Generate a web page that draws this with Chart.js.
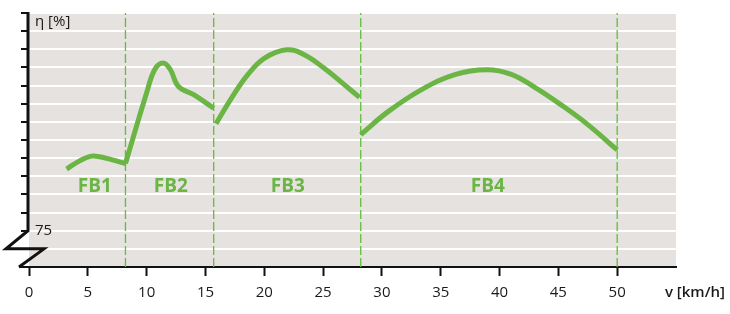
<!DOCTYPE html>
<html>
<head>
<meta charset="utf-8">
<script src="https://cdn.jsdelivr.net/npm/chart.js@4/dist/chart.umd.min.js"></script>
<style>
  html, body { margin: 0; padding: 0; background: #fff; }
  #wrap { width: 730px; height: 314px; }
</style>
</head>
<body>
<div id="wrap"><canvas id="chart" width="730" height="314"></canvas></div>
<script>
// ranges (speed in km/h, efficiency in %)
const speedMin = 0, speedMax = 55;
const etaMin = 73, etaMax = 87;
const xTicks = [0, 5, 10, 15, 20, 25, 30, 35, 40, 45, 50];

// FB1..FB4 curves
const fb1Speed = [3.2, 4.3, 5.2, 6.0, 7.0, 8.2];
const fb1Eta   = [78.4, 78.85, 79.1, 79.08, 78.92, 78.7];
const fb2Speed = [8.2, 10.0, 10.7, 11.4, 12.0, 12.7, 14.0, 15.7];
const fb2Eta   = [78.7, 82.6, 83.9, 84.25, 83.9, 82.95, 82.5, 81.75];
const fb3Speed = [15.9, 17.2, 18.6, 20.0, 21.9, 23.4, 25.1, 26.8, 28.1];
const fb3Eta   = [80.9, 82.3, 83.6, 84.5, 84.97, 84.7, 83.95, 83.05, 82.35];
const fb4Speed = [28.2, 30.5, 33.3, 36.2, 38.9, 41.0, 43.0, 45.2, 47.5, 50.0];
const fb4Eta   = [80.3, 81.55, 82.75, 83.6, 83.87, 83.62, 82.9, 81.95, 80.85, 79.45];

// range borders (dashed) and area names
const borders = [8.2, 15.7, 28.2, 50];
const areaNames = ["FB1", "FB2", "FB3", "FB4"];
const areaSpeeds = [5.6, 12.05, 22, 39];
const areaEta = 77.45;

const GREEN = "#6ab544";
const FONT = "'Open Sans', 'Noto Sans', sans-serif";

function pts(xs, ys) {
  return xs.map((x, i) => ({ x: x, y: ys[i] }));
}

const datasets = [];
borders.forEach(b => {
  datasets.push({
    data: [{ x: b, y: etaMin }, { x: b, y: etaMax }],
    borderColor: "#5fbf3a",
    borderWidth: 1.3,
    borderDash: [9, 3],
    tension: 0,
    order: 2
  });
});
[[fb1Speed, fb1Eta], [fb2Speed, fb2Eta], [fb3Speed, fb3Eta], [fb4Speed, fb4Eta]].forEach(s => {
  datasets.push({
    data: pts(s[0], s[1]),
    borderColor: GREEN,
    borderWidth: 5,
    tension: 0.4,
    borderCapStyle: "butt",
    order: 1
  });
});

// gray plot background
const bgPlugin = {
  id: "bg",
  beforeDraw(chart) {
    const a = chart.chartArea;
    const c = chart.ctx;
    c.save();
    c.fillStyle = "#e5e2e0";
    c.fillRect(a.left, a.top, a.right - a.left, a.bottom - a.top);
    c.restore();
  }
};

// y axis with break, labels and area names
const decoPlugin = {
  id: "deco",
  afterDraw(chart) {
    const c = chart.ctx;
    const a = chart.chartArea;
    const x = chart.scales.x;
    const y = chart.scales.y;
    const L = a.left - 1;
    const y75 = y.getPixelForValue(75);
    const y74 = y.getPixelForValue(74);
    c.save();
    c.strokeStyle = "#111";
    c.lineWidth = 3;
    c.lineJoin = "miter";
    c.beginPath();
    c.moveTo(L, a.top - 1);
    c.lineTo(L, y75);
    c.lineTo(L - 22, y74);
    c.lineTo(L + 16, y74);
    c.lineTo(L - 9, a.bottom);
    c.stroke();
    c.lineWidth = 2;
    c.beginPath();
    c.moveTo(L - 9, a.bottom);
    c.lineTo(a.left, a.bottom);
    c.stroke();

    c.fillStyle = "#1a1a1a";
    c.font = "15px " + FONT;
    c.textBaseline = "middle";
    c.textAlign = "left";
    c.fillText("75", L + 7, y75);
    c.fillText("η [%]", L + 7, y.getPixelForValue(etaMax) + 9);

    c.font = "600 15px " + FONT;
    c.textAlign = "right";
    c.fillText("v [km/h]", 725, a.bottom + 26);

    c.fillStyle = GREEN;
    c.font = "bold 19px " + FONT;
    c.textAlign = "center";
    areaNames.forEach((n, i) => {
      c.fillText(n, x.getPixelForValue(areaSpeeds[i]), y.getPixelForValue(areaEta));
    });
    c.restore();
  }
};

new Chart(document.getElementById("chart"), {
  type: "scatter",
  data: { datasets: datasets },
  plugins: [bgPlugin, decoPlugin],
  options: {
    responsive: false,
    animation: false,
    showLine: true,
    elements: { point: { radius: 0 } },
    layout: { padding: { left: 21, right: 54, top: 13, bottom: 4 } },
    plugins: { legend: { display: false }, tooltip: { enabled: false } },
    scales: {
      x: {
        type: "linear",
        min: speedMin,
        max: speedMax,
        afterBuildTicks: s => { s.ticks = xTicks.map(v => ({ value: v })); },
        grid: { drawOnChartArea: false, drawTicks: true, tickLength: 9, tickColor: "#111", tickWidth: 2 },
        border: { display: true, color: "#111", width: 2 },
        ticks: { color: "#1a1a1a", padding: 8, font: { family: FONT, size: 15 } }
      },
      y: {
        type: "linear",
        min: etaMin,
        max: etaMax,
        ticks: { stepSize: 1, display: false },
        grid: {
          color: "#ffffff",
          lineWidth: 2,
          drawTicks: true,
          tickLength: 8,
          tickWidth: 2,
          tickColor: c => (c.tick && c.tick.value >= 75 ? "#111" : "rgba(0,0,0,0)")
        },
        border: { display: false }
      }
    }
  }
});
</script>
</body>
</html>
